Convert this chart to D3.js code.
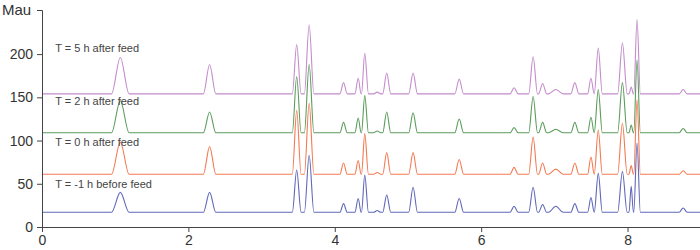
<!DOCTYPE html>
<html>
<head>
<meta charset="utf-8">
<script src="https://cdn.jsdelivr.net/npm/d3@7/dist/d3.min.js"></script>
<style>
  html, body { margin: 0; padding: 0; background: #fff; }
  svg { display: block; font-family: "Liberation Sans", Arial, sans-serif; }
</style>
</head>
<body>
<svg id="chart" width="700" height="250"></svg>
<script>
// ---- data ----
const seriesNames = ["T = 5 h after feed", "T = 2 h after feed", "T = 0 h after feed", "T = -1 h before feed"];
const seriesColors = ["#c48ccc", "#5c9c5c", "#f27a52", "#6068b8"];
const baselines = [154, 109, 61, 17];            // Mau offsets of each trace
const labelValues = [202, 141, 94, 45];          // y (Mau) where each label sits
const peakTimes = [1.07, 2.29, 3.48, 3.65, 4.12, 4.32, 4.41, 4.58, 4.71, 5.07, 5.70, 6.45, 6.71, 6.84, 7.02, 7.28, 7.50, 7.60, 7.93, 8.05, 8.13, 8.76];
const peakHalfWidths = [0.12, 0.085, 0.06, 0.065, 0.05, 0.045, 0.05, 0.05, 0.055, 0.06, 0.06, 0.055, 0.06, 0.055, 0.1, 0.055, 0.045, 0.055, 0.065, 0.03, 0.045, 0.055];
const heightsT5  = [42, 34, 57, 80, 13, 18, 47, 2, 24, 24, 17, 7, 43, 12, 5, 13, 18, 53, 59, 8, 86, 5];
const heightsT2  = [37, 24, 65, 79, 12, 17, 43, 2, 24, 23, 16, 6, 42, 12, 4, 12, 18, 50, 58, 9, 84, 5];
const heightsT0  = [37, 32, 74, 82, 13, 16, 47, 2, 25, 25, 17, 8, 43, 13, 6, 13, 20, 51, 59, 10, 86, 4];
const heightsTm1 = [23, 23, 49, 66, 10, 16, 43, 2, 20, 29, 16, 7, 29, 9, 7, 10, 17, 45, 47, 30, 80, 5];
const xTicks = [0, 2, 4, 6, 8];
const yTicks = [0, 50, 100, 150, 200];
const timeRange = [0, 8.99];
const mauRange = [0, 251];
const heightSets = [heightsT5, heightsT2, heightsT0, heightsTm1];

// ---- drawing ----
const svg = d3.select("#chart");
const x = d3.scaleLinear().domain(timeRange).range([42, 700]);
const y = d3.scaleLinear().domain(mauRange).range([227, 10]);

const line = d3.line()
  .x(d => x(d[0]))
  .y(d => y(d[1]))
  .curve(d3.curveMonotoneX);

heightSets.forEach((hs, i) => {
  const base = baselines[i];
  const pts = [[timeRange[0], base]];
  peakTimes.forEach((t, k) => {
    const w = peakHalfWidths[k];
    pts.push([t - w, base], [t, base + hs[k]], [t + w, base]);
  });
  pts.push([timeRange[1] + 0.2, base]);
  pts.sort((a, b) => a[0] - b[0]);
  svg.append("path")
    .attr("d", line(pts))
    .attr("fill", "none")
    .attr("stroke", seriesColors[i])
    .attr("stroke-width", 1.1);
});

seriesNames.forEach((name, i) => {
  svg.append("text")
    .attr("x", x(0.18))
    .attr("y", y(labelValues[i]))
    .attr("font-size", 11)
    .attr("fill", "#444")
    .text(name);
});

const xAxis = svg.append("g")
  .attr("transform", `translate(0,${y(0)})`)
  .call(d3.axisBottom(x).tickValues(xTicks).tickFormat(d3.format("d")).tickSize(5).tickSizeOuter(0).tickPadding(3));
const yAxis = svg.append("g")
  .attr("transform", `translate(${x(0)},0)`)
  .call(d3.axisLeft(y).tickValues(yTicks).tickFormat(d3.format("d")).tickSize(5).tickSizeOuter(5).tickPadding(4));

[xAxis, yAxis].forEach(g => {
  g.selectAll("path, line").attr("stroke", "#444");
  g.selectAll("text").attr("font-size", 14).attr("fill", "#333")
    .attr("font-family", "\"Liberation Sans\", Arial, sans-serif");
});

svg.append("text")
  .attr("x", 2)
  .attr("y", 15)
  .attr("font-size", 15)
  .attr("fill", "#333")
  .text("Mau");
</script>
</body>
</html>
